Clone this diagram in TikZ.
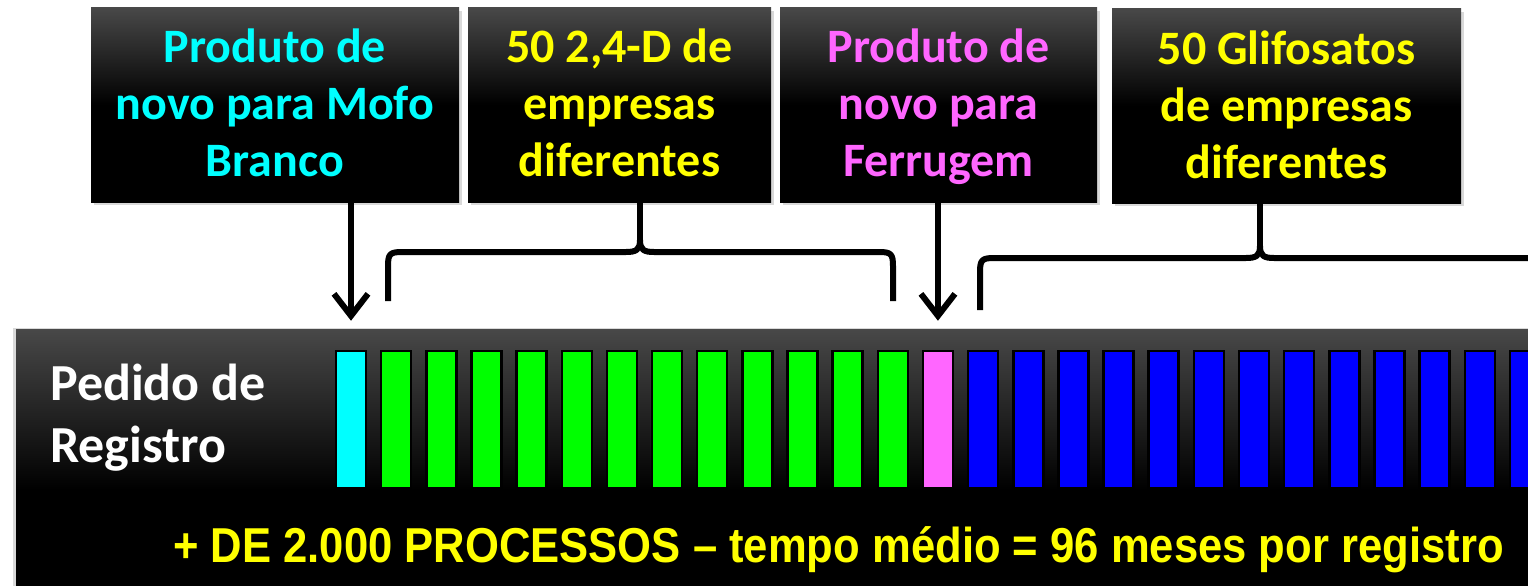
\documentclass[tikz,border=0pt]{standalone}
\usepackage{fontspec}
\setmainfont{Carlito}
\newfontfamily\countfont[FakeStretch=0.89]{Liberation Sans}
\usepackage{tikz}
\usetikzlibrary{arrows.meta,shadows}

\definecolor{topgrey}{RGB}{72,72,72}
\definecolor{barcyan}{RGB}{0,255,255}
\definecolor{bargreen}{RGB}{0,255,0}
\definecolor{barpink}{RGB}{255,102,255}
\definecolor{barblue}{RGB}{0,0,255}
\definecolor{labelyellow}{RGB}{255,255,0}

\begin{document}
\begin{tikzpicture}[x=1pt,y=-1pt,
                    >={Straight Barb[length=22pt,width=34pt]},
                    darkbox/.style={top color=topgrey,bottom color=black,middle color=black,
                                    inner sep=0pt},
                    boxshadow/.style={drop shadow={shadow xshift=3pt,shadow yshift=-3pt,
                                                   opacity=0.3}},
                    boxtext/.style={font=\bfseries\fontsize{48}{57}\selectfont,
                                    text height=55pt,text depth=139pt},
                    bar/.style={draw=black,line width=2.5pt,minimum width=30pt,
                                minimum height=137pt,inner sep=0pt},
                    pointer/.style={->,line width=6pt,shorten >=29pt},
                    brace/.style={line width=6pt,line join=round}]

\useasboundingbox (0,0) rectangle (1528,586);
\clip (0,0) rectangle (1528,586);

% the long panel with the requests
\node[darkbox,minimum width=1529pt,minimum height=322pt,
      drop shadow={shadow xshift=-3pt,shadow yshift=1pt,opacity=0.3}] (panel) at (780.5,490) {};

\node[anchor=west,inner sep=0pt,text=white,
      font=\bfseries\fontsize{52}{62}\selectfont] (pedido) at (50,418.6)
      {\begin{tabular}{@{}l@{}}Pedido de\\Registro\end{tabular}};

\node[bar,fill=barcyan] (bar0) at (351,419.5) {};
\foreach \i in {1,...,12}
  \node[bar,fill=bargreen] (bar\i) at (351+45.15*\i,419.5) {};
\node[bar,fill=barpink] (bar13) at (351+45.15*13,419.5) {};
\foreach \i in {14,...,26}
  \node[bar,fill=barblue] (bar\i) at (351+45.15*\i,419.5) {};

\node[anchor=base,text=labelyellow,
      font=\countfont\bfseries\fontsize{49}{58}\selectfont] (total) at (838.5,562)
      {+ DE 2.000 PROCESSOS – tempo médio = 96 meses por registro};

% the four labels on top
\draw node[darkbox,boxshadow,boxtext,text=barcyan,minimum width=368pt]
           (mofo) at (275,105) {\begin{tabular}[t]{c}Produto de\\
                                                    novo para Mofo\\
                                                    Branco\end{tabular}}
      node[darkbox,boxshadow,boxtext,text=labelyellow,minimum width=303pt]
           (d24) at (619.5,105) {\begin{tabular}[t]{c}50 2,4-D de\\
                                                     empresas\\
                                                     diferentes\end{tabular}}
      node[darkbox,boxshadow,boxtext,text=barpink,minimum width=317pt]
           (ferrugem) at (938.5,105) {\begin{tabular}[t]{c}Produto de\\
                                                          novo para\\
                                                          Ferrugem\end{tabular}}
      node[darkbox,boxshadow,boxtext,text=labelyellow,minimum width=349pt]
           (glifo) at (1286.5,106) {\begin{tabular}[t]{c}50 Glifosatos\\
                                                        de empresas\\
                                                        diferentes\end{tabular}};

\path (mofo.south -| bar0.north) edge[pointer] (bar0.north)
      (ferrugem.south -| bar13.north) edge[pointer] (bar13.north);

% braces
\coordinate (cusp1) at (640,240);
\draw[brace] (388,301) -- (388,266) .. controls (388,254) and (390,252) .. (402,252)
      -- (626,252) .. controls (636,252) and (640,250) .. (cusp1)
      .. controls (640,250) and (644,252) .. (654,252)
      -- (879,252) .. controls (891,252) and (893,254) .. (893,266) -- (893,301);
\draw[brace] (cusp1) -- (d24.south -| cusp1);

\coordinate (cusp2) at (1260,246);
\draw[brace] (980,310) -- (980,272) .. controls (980,260) and (982,258) .. (994,258)
      -- (1246,258) .. controls (1256,258) and (1260,256) .. (cusp2)
      .. controls (1260,256) and (1264,258) .. (1274,258) -- (1560,258);
\draw[brace] (cusp2) -- (glifo.south -| cusp2);

\end{tikzpicture}
\end{document}
